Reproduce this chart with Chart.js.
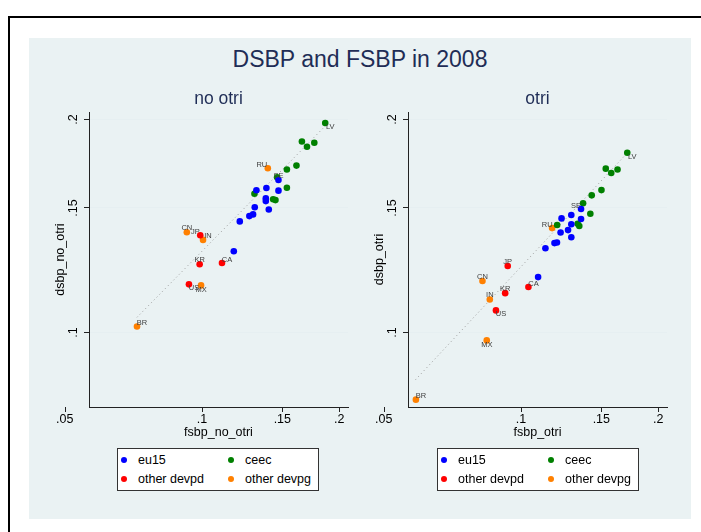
<!DOCTYPE html>
<html>
<head>
<meta charset="utf-8">
<script src="https://cdn.jsdelivr.net/npm/chart.js@4.4.0/dist/chart.umd.min.js"></script>
<style>
body{margin:0;width:701px;height:532px;overflow:hidden;background:#fff;position:relative;font-family:"Liberation Sans",Arial,sans-serif}
#frame{position:absolute;left:8px;top:16px;width:700px;height:520px;border-left:2px solid #000;border-top:2px solid #000}
#bg{position:absolute;left:29px;top:38px;width:662px;height:481px;background:#eaf2f3}
#title{position:absolute;left:29px;width:662px;top:44px;text-align:center;font-size:23px;color:#1f2d56;line-height:30px}
canvas{position:absolute;top:80px}
.legend{position:absolute;top:448px;width:200px;height:41px;background:#fff;border:1px solid #333;font-size:12.5px}
.legend .m{position:absolute;width:6px;height:6px;border-radius:50%}
.legend .t{position:absolute;line-height:16px;color:#000}
</style>
</head>
<body>
<div id="frame"></div>
<div id="bg"></div>
<div id="title">DSBP and FSBP in 2008</div>
<canvas id="noOtri" width="320" height="370" style="left:40px"></canvas>
<canvas id="otri" width="320" height="370" style="left:359px"></canvas>
<div class="legend" id="leg1" style="left:117px"></div>
<div class="legend" id="leg2" style="left:437px"></div>
<script>
// groups
var groupNames = ["eu15", "ceec", "other devpd", "other devpg"];
var groupColors = ["#0000ff", "#008000", "#ff0000", "#ff8000"];

// country codes shown next to the points ('' = no label)
var eu15Codes = ["SE", "", "", "", "", "", "", "", "", "", "", ""];
var ceecCodes = ["LV", "", "", "", "", "", "", "", "", "", ""];
var devpdCodes = ["JP", "KR", "CA", "US"];
var devpgCodes = ["RU", "CN", "IN", "MX", "BR"];

// no otri panel
var eu15X_no = [0.1471, 0.1316, 0.1384, 0.1471, 0.1380, 0.1380, 0.1305, 0.1401, 0.1270, 0.1294, 0.1210, 0.1174];
var eu15Y_no = [0.1643, 0.1589, 0.1601, 0.1587, 0.1548, 0.1534, 0.1504, 0.1493, 0.1461, 0.1469, 0.1436, 0.1303];
var ceecX_no = [0.1863, 0.1656, 0.1699, 0.1763, 0.1535, 0.1611, 0.1461, 0.1535, 0.1303, 0.1432, 0.1449];
var ceecY_no = [0.1978, 0.1862, 0.1831, 0.1855, 0.1700, 0.1722, 0.1658, 0.1602, 0.1571, 0.1543, 0.1539];
var devpdX_no = [0.0991, 0.0988, 0.1106, 0.0936];
var devpdY_no = [0.1373, 0.1249, 0.1254, 0.1170];
var devpgX_no = [0.1394, 0.0926, 0.1005, 0.0995, 0.0720];
var devpgY_no = [0.1707, 0.1386, 0.1352, 0.1166, 0.1020];
var fitX_no = [0.0720, 0.1865];
var fitY_no = [0.1051, 0.1960];

// otri panel
var eu15X_ot = [0.1354, 0.1289, 0.1227, 0.1354, 0.1289, 0.1268, 0.1221, 0.1289, 0.1184, 0.1199, 0.1131, 0.1090];
var eu15Y_ot = [0.1495, 0.1466, 0.1450, 0.1447, 0.1423, 0.1396, 0.1385, 0.1364, 0.1338, 0.1341, 0.1316, 0.1198];
var ceecX_ot = [0.1710, 0.1534, 0.1577, 0.1628, 0.1501, 0.1429, 0.1368, 0.1419, 0.1200, 0.1331, 0.1342];
var ceecY_ot = [0.1795, 0.1705, 0.1681, 0.1700, 0.1590, 0.1563, 0.1523, 0.1472, 0.1419, 0.1425, 0.1415];
var devpdX_ot = [0.0935, 0.0923, 0.1038, 0.0881];
var devpdY_ot = [0.1242, 0.1137, 0.1160, 0.1075];
var devpgX_ot = [0.1170, 0.0823, 0.0854, 0.0841, 0.0588];
var devpgY_ot = [0.1405, 0.1183, 0.1114, 0.0975, 0.0804];
var fitX_ot = [0.0587, 0.1711];
var fitY_ot = [0.0858, 0.1795];

// ticks
var xTickVals = [0.05, 0.1, 0.15, 0.2];
var xTickLabels = [".05", ".1", ".15", ".2"];
var yTickVals = [0.1, 0.15, 0.2];
var yTickLabels = [".1", ".15", ".2"];

// label clock positions (like mlabvpos)
var labPos_no = {SE: 12, LV: 4, RU: 10, CN: 12, JP: 11, IN: 1, KR: 12, CA: 1, US: 4, MX: 6, BR: 1};
var labPos_ot = {SE: 11, LV: 4, RU: 11, CN: 12, JP: 12, IN: 12, KR: 12, CA: 1, US: 4, MX: 6, BR: 1};
var clockOffset = {12: [0, -4.3], 1: [5, -3.5], 11: [-5, -3.5], 10: [-6, -3.5], 4: [5, 4], 6: [0, 4.3]};

Chart.defaults.font.family = "'Liberation Sans', Arial, sans-serif";
Chart.defaults.color = "#000";

function pts(xs, ys) {
    var out = [];
    for (var i = 0; i < xs.length; i++) out.push({x: xs[i], y: ys[i]});
    return out;
}

// draws country codes, rotated y tick labels and the .05 x tick
var extrasPlugin = {
    id: "extras",
    afterDatasetsDraw: function (chart) {
        var ctx = chart.ctx;
        var pos = chart.options.plugins.extras.labPos;
        ctx.save();
        ctx.font = "7.5px 'Liberation Sans', Arial, sans-serif";
        ctx.fillStyle = "#404040";
        ctx.textAlign = "center";
        ctx.textBaseline = "middle";
        chart.data.datasets.forEach(function (ds, di) {
            if (!ds.codes) return;
            var meta = chart.getDatasetMeta(di);
            meta.data.forEach(function (el, i) {
                var c = ds.codes[i];
                if (!c) return;
                var off = clockOffset[pos[c]] || [5, 0];
                ctx.fillText(c, el.x + off[0], el.y + off[1]);
            });
        });
        ctx.restore();
    },
    afterDraw: function (chart) {
        var ctx = chart.ctx;
        var area = chart.chartArea;
        var ys = chart.scales.y, xs = chart.scales.x;
        ctx.save();
        ctx.font = "12.5px 'Liberation Sans', Arial, sans-serif";
        ctx.fillStyle = "#000";
        ctx.textAlign = "center";
        ctx.textBaseline = "middle";
        yTickVals.forEach(function (v, i) {
            var py = ys.getPixelForValue(v);
            ctx.save();
            ctx.translate(area.left - 15, py);
            ctx.rotate(-Math.PI / 2);
            ctx.fillText(yTickLabels[i], 0, 0);
            ctx.restore();
        });
        // x ticks that fall left of the plot region
        xTickVals.forEach(function (v, i) {
            if (v >= xs.min) return;
            var px = xs.getPixelForValue(v);
            ctx.strokeStyle = "#222";
            ctx.lineWidth = 1;
            ctx.beginPath();
            ctx.moveTo(Math.round(px) + 0.5, area.bottom);
            ctx.lineTo(Math.round(px) + 0.5, area.bottom + 5);
            ctx.stroke();
            ctx.fillText(xTickLabels[i], px, area.bottom + 12.5);
        });
        ctx.restore();
    }
};

function makePanel(id, title, xTitle, yTitle, d, labPos) {
    var datasets = [];
    var codes = [eu15Codes, ceecCodes, devpdCodes, devpgCodes];
    for (var g = 0; g < 4; g++) {
        datasets.push({
            type: "scatter",
            label: groupNames[g],
            data: pts(d[g][0], d[g][1]),
            codes: codes[g],
            backgroundColor: groupColors[g],
            borderColor: groupColors[g],
            borderWidth: 0,
            pointRadius: 3.3,
            order: 1
        });
    }
    datasets.push({
        type: "line",
        label: "fit",
        data: pts(d[4][0], d[4][1]),
        borderColor: "#9a9a9a",
        borderWidth: 1,
        borderDash: [1, 3],
        pointRadius: 0,
        fill: false,
        order: 10
    });

    return new Chart(id, {
        type: "scatter",
        data: {datasets: datasets},
        plugins: [extrasPlugin],
        options: {
            responsive: false,
            animation: false,
            events: [],
            layout: {padding: {left: 0, right: 12, top: 0, bottom: 0}},
            plugins: {
                legend: {display: false},
                tooltip: {enabled: false},
                title: {
                    display: true,
                    text: title,
                    fullSize: false,
                    color: "#1f2d56",
                    font: {size: 17.5, weight: "normal"},
                    padding: {top: 9, bottom: 2}
                },
                extras: {labPos: labPos}
            },
            scales: {
                x: {
                    type: "logarithmic",
                    min: 0.0565,
                    max: 0.209,
                    afterBuildTicks: function (s) {
                        s.ticks = xTickVals.filter(function (v) { return v >= s.min && v <= s.max; })
                            .map(function (v) { return {value: v}; });
                    },
                    afterFit: function (s) { s.height = 43; },
                    ticks: {
                        padding: 0,
                        autoSkip: false,
                        maxRotation: 0,
                        font: {size: 12.5},
                        color: "#000",
                        callback: function (v) { return xTickLabels[xTickVals.indexOf(v)]; }
                    },
                    grid: {drawOnChartArea: false, tickLength: 5, tickColor: "#222"},
                    border: {color: "#222", width: 1},
                    title: {display: true, text: xTitle, font: {size: 12.5}, color: "#000", padding: {top: 0, bottom: 9.5}}
                },
                y: {
                    type: "logarithmic",
                    min: 0.0785,
                    max: 0.205,
                    afterBuildTicks: function (s) {
                        s.ticks = yTickVals.map(function (v) { return {value: v}; });
                    },
                    afterFit: function (s) { s.width = 49; },
                    ticks: {display: false},
                    grid: {color: "#e6eff1", lineWidth: 1, tickLength: 5, tickColor: "#222"},
                    border: {color: "#222", width: 1},
                    title: {display: true, text: yTitle, font: {size: 12.5}, color: "#000", padding: {top: 13.5, bottom: 0}}
                }
            }
        }
    });
}

makePanel("noOtri", "no otri", "fsbp_no_otri", "dsbp_no_otri",
    [[eu15X_no, eu15Y_no], [ceecX_no, ceecY_no], [devpdX_no, devpdY_no], [devpgX_no, devpgY_no], [fitX_no, fitY_no]],
    labPos_no);
makePanel("otri", "otri", "fsbp_otri", "dsbp_otri",
    [[eu15X_ot, eu15Y_ot], [ceecX_ot, ceecY_ot], [devpdX_ot, devpdY_ot], [devpgX_ot, devpgY_ot], [fitX_ot, fitY_ot]],
    labPos_ot);

// legends
function buildLegend(id) {
    var box = document.getElementById(id);
    for (var i = 0; i < groupNames.length; i++) {
        var col = i % 2, row = Math.floor(i / 2);
        var m = document.createElement("div");
        m.className = "m";
        m.style.background = groupColors[i];
        m.style.left = (6 - 3 + col * 107) + "px";
        m.style.top = (11 - 3 + row * 19) + "px";
        box.appendChild(m);
        var t = document.createElement("div");
        t.className = "t";
        t.textContent = groupNames[i];
        t.style.left = (20 + col * 107) + "px";
        t.style.top = (11 - 8 + row * 19) + "px";
        box.appendChild(t);
    }
}
buildLegend("leg1");
buildLegend("leg2");
</script>
</body>
</html>
